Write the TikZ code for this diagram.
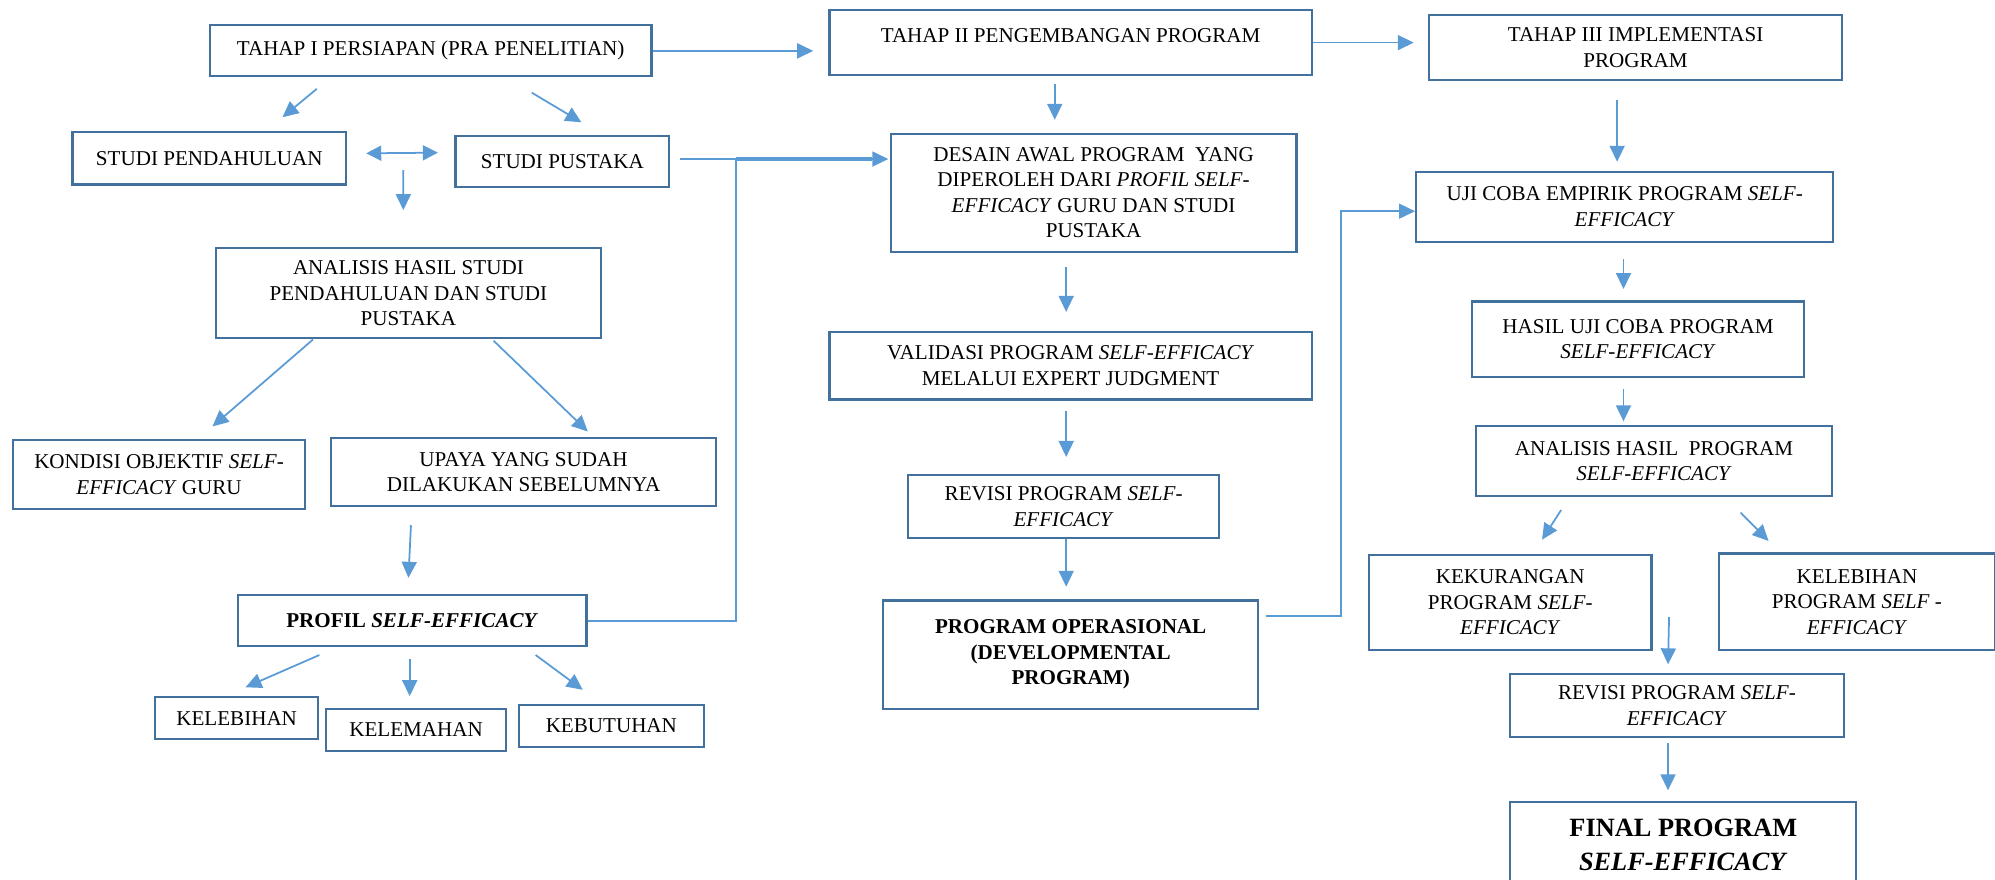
\documentclass[tikz,border=0pt]{standalone}
\usepackage{fontspec}
\setmainfont{Liberation Serif}
\usetikzlibrary{arrows.meta, calc}
\definecolor{boxblue}{RGB}{65, 113, 156}
\definecolor{arrowblue}{RGB}{91, 155, 213}

\begin{document}
\begin{tikzpicture}[x=0.25446mm, y=-0.25446mm,
    box/.style={draw=boxblue, line width=1.2pt, align=center, inner sep=2pt, font=\fontsize{12}{14.5}\selectfont},
    link/.style={draw=arrowblue, line width=1pt},
    arr/.style={link, -{Triangle[length=3.2mm, width=3mm]}},
    arrboth/.style={link, {Triangle[length=3mm, width=3mm]}-{Triangle[length=3mm, width=3mm]}}]
        \useasboundingbox (0,0) rectangle (1568,691);

        \node[box, minimum width=88.30mm, minimum height=10.18mm] (tahapI)   at (338.5,40)   {TAHAP I PERSIAPAN (PRA PENELITIAN)};
        \node[box, minimum width=96.44mm, minimum height=12.98mm] (tahapII)  at (841.5,33.5) {TAHAP II PENGEMBANGAN PROGRAM\\[-6pt]\mbox{}};
        \node[box, minimum width=82.70mm, minimum height=12.98mm] (tahapIII) at (1285.5,37.5) {TAHAP III IMPLEMENTASI\\PROGRAM};

        \node[box, minimum width=54.71mm, minimum height=10.43mm] (studiPend) at (164.5,124.5) {STUDI PENDAHULUAN};
        \node[box, minimum width=42.75mm, minimum height=10.18mm] (studiPus)  at (442,127)     {STUDI PUSTAKA};
        \node[box, minimum width=76.85mm, minimum height=18.07mm] (analisisI) at (321,230.5)   {ANALISIS HASIL STUDI\\PENDAHULUAN DAN STUDI\\PUSTAKA};
        \node[box, minimum width=58.53mm, minimum height=13.74mm] (kondisi)   at (125,373)     {KONDISI OBJEKTIF \textit{SELF-}\\\textit{EFFICACY} GURU};
        \node[box, minimum width=77.10mm, minimum height=13.74mm] (upaya)     at (411.5,371)   {UPAYA YANG SUDAH\\DILAKUKAN SEBELUMNYA};
        \node[box, minimum width=69.72mm, minimum height=10.18mm] (profil)    at (324,488)     {\bfseries PROFIL \textit{SELF-EFFICACY}};
        \node[box, minimum width=32.57mm, minimum height=8.40mm]  (kelebihan) at (186,564.5)   {KELEBIHAN};
        \node[box, minimum width=36.13mm, minimum height=8.40mm]  (kelemahan) at (327,573.5)   {KELEMAHAN};
        \node[box, minimum width=36.90mm, minimum height=8.40mm]  (kebutuhan) at (480.5,570.5) {KEBUTUHAN};

        \node[box, minimum width=81.17mm, minimum height=23.66mm] (desain)   at (859.5,151.5) {DESAIN AWAL PROGRAM~ YANG\\DIPEROLEH DARI \textit{PROFIL SELF-}\\\textit{EFFICACY} GURU DAN STUDI\\PUSTAKA};
        \node[box, minimum width=96.44mm, minimum height=13.49mm] (validasi) at (841.5,287.5) {VALIDASI PROGRAM \textit{SELF-EFFICACY}\\MELALUI EXPERT JUDGMENT};
        \node[box, minimum width=62.09mm, minimum height=12.72mm] (revisiII) at (836,398)     {REVISI PROGRAM \textit{SELF-}\\\textit{EFFICACY}};
        \node[box, minimum width=75.07mm, minimum height=21.63mm] (operasi)  at (841.5,514.5) {\bfseries PROGRAM OPERASIONAL\\\bfseries (DEVELOPMENTAL\\\bfseries PROGRAM)};

        \node[box, minimum width=83.46mm, minimum height=14.00mm] (ujiCoba)    at (1277,162.5)  {UJI COBA EMPIRIK PROGRAM \textit{SELF-}\\\textit{EFFICACY}};
        \node[box, minimum width=66.41mm, minimum height=15.01mm] (hasilUji)   at (1287.5,266.5) {HASIL UJI COBA PROGRAM\\\textit{SELF-EFFICACY}};
        \node[box, minimum width=71.25mm, minimum height=14.00mm] (analisisII) at (1300,362.5)  {ANALISIS HASIL~ PROGRAM\\\textit{SELF-EFFICACY}};
        \node[box, minimum width=56.49mm, minimum height=19.08mm] (kekurangan) at (1187,473.5)  {KEKURANGAN\\PROGRAM \textit{SELF-}\\\textit{EFFICACY}};
        \node[box, minimum width=55.22mm, minimum height=19.34mm] (kelebihanP) at (1459.5,473)  {KELEBIHAN\\PROGRAM \textit{SELF} -\\\textit{EFFICACY}};
        \node[box, minimum width=66.67mm, minimum height=12.47mm] (revisiIII)  at (1318,554.5)  {REVISI PROGRAM \textit{SELF-}\\\textit{EFFICACY}};
        \node[box, minimum width=69.21mm, minimum height=17.30mm, font=\fontsize{15}{19.5}\selectfont\bfseries] (final) at (1323,664) {FINAL PROGRAM\\\textit{SELF-EFFICACY}};

        \draw[arr, shorten >=3.05mm] (tahapI.east) -- (tahapI.east -| tahapII.west);
        \draw[arr, shorten >=2.8mm] (tahapII.east) -- (tahapII.east -| tahapIII.west);

        \draw[arr] ($(tahapI.south)+(-89.5,9)$) -- ($(studiPend.north)+(57.5,-11)$);
        \draw[arr] ($(tahapI.south)+(79.5,12)$) -- ($(studiPus.north)+(15,-10)$);
        \draw[arrboth] ($(studiPend.east)+(15,-4)$) -- ($(studiPus.west)+(-13,-7)$);
        \draw[arr] ($(studiPend.east)!0.5!(studiPus.west)+(2,8)$) -- ($(analisisI.north)+(-4,-29)$);
        \draw[arr] ($(analisisI.south)+(-75,0)$) -- ($(kondisi.north)+(42,-10)$);
        \draw[arr] ($(analisisI.south)+(67,1)$) -- ($(upaya.north)+(50.5,-4)$);
        \draw[arr] ($(upaya.south)+(-88.5,14)$) -- ($(profil.north)+(-3,-13)$);
        \draw[arr] ($(profil.south)+(-73,6)$) -- ($(kelebihan.north)+(7,-7)$);
        \draw[arr] ($(profil.south)+(-2,9)$) -- ($(kelemahan.north)+(-5,-9)$);
        \draw[arr] ($(profil.south)+(97,6)$) -- ($(kebutuhan.north)+(-22.5,-11)$);

        \draw[link] (profil.east) -| ($(desain.west)+(-121,-26.5)$);
        \draw[arr] ($(studiPus.east)+(8,-2)$) -- ($(desain.west)+(-1,-26.5)$);
        \draw[arrowblue, line width=2pt] ($(desain.west)+(-121,-26.5)$) -- ($(desain.west)+(-14,-26.5)$);

        \draw[arr] ($(tahapII.south)+(-12.5,6)$) -- ($(desain.north)+(-30.5,-10)$);
        \draw[arr] ($(desain.south)+(-21.5,11)$) -- ($(validasi.north)+(-3.5,-15)$);
        \draw[arr] ($(validasi.south)+(-3.5,8)$) -- ($(revisiII.north)+(2,-13)$);
        \draw[arr] ($(revisiII.south)+(2,0)$) -- ($(operasi.north)+(-3.5,-10)$);
        \draw[arr] ($(operasi.east)+(5,-30.5)$) -- ++(59,0) |- ($(ujiCoba.west)+(0,3.5)$);

        \draw[arr] ($(tahapIII.south)+(-14.5,15)$) -- ($(ujiCoba.north)+(-6,-7)$);
        \draw[arr] ($(ujiCoba.south)+(-1,13)$) -- ($(hasilUji.north)+(-11.5,-9)$);
        \draw[arr] ($(hasilUji.south)+(-11.5,9)$) -- ($(analisisII.north)+(-24,-3)$);
        \draw[arr] ($(analisisII.south)+(-73,10)$) -- ($(kekurangan.north)+(25,-11)$);
        \draw[arr] ($(analisisII.south)+(68,12)$) -- ($(kelebihanP.north)+(-69.5,-9)$);
        \draw[arr] ($(kekurangan.east)+(13,11.5)$) -- ($(revisiIII.north)+(-7,-7)$);
        \draw[arr] ($(revisiIII.south)+(-7,4)$) -- ($(final.north)+(-12,-8)$);
    \end{tikzpicture}
\end{document}
